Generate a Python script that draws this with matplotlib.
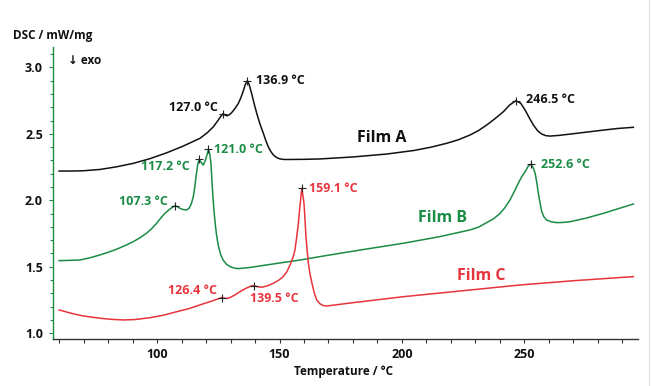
import numpy as np
import matplotlib
matplotlib.use("Agg")
import matplotlib.pyplot as plt
from matplotlib.lines import Line2D

# ---------------- data ----------------
film_a_T = [60, 65, 69.8, 76.7, 83.5, 90.3, 97.1, 103.9, 110.7, 117.5, 120.5, 123.0,
            125.0, 126.2, 127.0, 127.8, 128.6, 129.6, 130.5, 131.8, 133.2, 134.3, 135.2,
            136.0, 136.9, 137.6, 138.6, 139.6, 140.7, 142.0, 143.4, 144.4, 145.4, 146.4,
            147.5, 148.8, 150.2, 152.0, 153.6, 160, 166.5, 180, 193.8, 205, 212, 218.3,
            223.0, 227.8, 231.3, 234.6, 238.0, 241.4, 244.0, 246.5, 248.5, 250.3, 252.0,
            253.7, 255.4, 257.1, 258.8, 260.5, 264, 268.7, 275, 282.3, 288, 294.5]
film_a_Y = [2.220, 2.220, 2.222, 2.232, 2.252, 2.278, 2.313, 2.357, 2.408, 2.466, 2.508, 2.553,
            2.604, 2.635, 2.652, 2.640, 2.636, 2.645, 2.660, 2.690, 2.729, 2.775, 2.822,
            2.870, 2.900, 2.870, 2.805, 2.730, 2.654, 2.575, 2.504, 2.450, 2.403, 2.368,
            2.341, 2.322, 2.311, 2.307, 2.307, 2.308, 2.311, 2.326, 2.348, 2.375, 2.400, 2.429,
            2.455, 2.491, 2.525, 2.566, 2.614, 2.666, 2.717, 2.749, 2.730, 2.679, 2.620,
            2.566, 2.523, 2.498, 2.486, 2.483, 2.488, 2.498, 2.512, 2.528, 2.540, 2.549]

film_b_T = [60, 64, 68.5, 72.5, 76.7, 80, 83.5, 87, 90.3, 93, 95.7, 97.8, 99.8, 101.5,
            103.2, 105.3, 107.3, 108.3, 109.3, 110.7, 112.1, 113.1, 114.0, 114.8, 115.4,
            115.9, 116.6, 117.2, 118.0, 118.9, 119.9, 121.0, 121.5, 122.0, 122.4, 122.8,
            123.2, 123.6, 124.2, 125.0, 126.0, 127.0, 128.3, 129.8, 131.5, 133.2, 138,
            144.8, 150, 158.4, 170.6, 185, 200.6, 215, 227.8, 231.5, 234.6, 237.5, 240.1,
            242.2, 244.1, 246.0, 247.5, 249.0, 250.3, 251.5, 252.6, 253.5, 254.4, 255.1,
            255.7, 256.4, 257.1, 258.0, 259.1, 261, 263.2, 265.5, 268.7, 275, 282.3, 288,
            294.5]
film_b_Y = [1.546, 1.548, 1.551, 1.567, 1.589, 1.609, 1.632, 1.660, 1.689, 1.718, 1.752,
            1.787, 1.827, 1.866, 1.902, 1.935, 1.959, 1.952, 1.940, 1.930, 1.927, 1.940,
            1.975, 2.027, 2.100, 2.177, 2.270, 2.308, 2.285, 2.265, 2.310, 2.383, 2.350,
            2.280, 2.150, 2.030, 1.930, 1.850, 1.750, 1.660, 1.590, 1.550, 1.520, 1.501,
            1.490, 1.486, 1.495, 1.514, 1.528, 1.551, 1.589, 1.632, 1.677, 1.725, 1.777,
            1.800, 1.832, 1.862, 1.902, 1.948, 2.002, 2.070, 2.128, 2.180, 2.215, 2.255,
            2.271, 2.250, 2.203, 2.130, 2.053, 1.980, 1.914, 1.875, 1.852, 1.838, 1.832,
            1.833, 1.839, 1.865, 1.902, 1.935, 1.972]

film_c_T = [60, 65, 69.8, 76.7, 81, 86.2, 91, 97.1, 102.5, 108.0, 113, 117.5, 122, 124.5,
            126.4, 127.6, 129.1, 131.5, 133.9, 136.5, 138.3, 139.5, 141.0, 142.7, 145,
            147.5, 149.6, 151.5, 153.0, 154.3, 155.4, 156.3, 157.0, 157.7, 158.2, 158.6,
            159.1, 159.6, 160.0, 160.4, 160.8, 161.3, 161.8, 162.4, 163.1, 164.1, 165.2,
            166.5, 167.9, 169.3, 180, 200.6, 225, 248.2, 270, 294.5]
film_c_Y = [1.175, 1.150, 1.130, 1.113, 1.105, 1.100, 1.103, 1.117, 1.135, 1.162, 1.185,
            1.213, 1.240, 1.256, 1.268, 1.263, 1.263, 1.285, 1.313, 1.340, 1.354, 1.358,
            1.350, 1.346, 1.356, 1.376, 1.398, 1.426, 1.462, 1.514, 1.565, 1.626, 1.720,
            1.827, 1.930, 2.002, 2.090, 2.030, 1.977, 1.860, 1.726, 1.620, 1.526, 1.450,
            1.390, 1.310, 1.250, 1.222, 1.208, 1.205, 1.230, 1.275, 1.320, 1.363, 1.395,
            1.426]

peaks_a = [127.0, 136.9, 246.5]
peaks_b = [107.3, 117.2, 121.0, 252.6]
peaks_c = [126.4, 139.5, 159.1]

x_major = [100, 150, 200, 250]
y_major = [1.0, 1.5, 2.0, 2.5, 3.0]

# ---------------- style ----------------
BLACK = "#111111"
GREEN = "#1a8c46"
RED = "#e8343c"
FONT = ["Open Sans", "DejaVu Sans"]
plt.rcParams["font.family"] = FONT
WT = "bold"

W, H = 652, 386
fig = plt.figure(figsize=(W / 100, H / 100), dpi=100)
fig.patch.set_facecolor("white")
ax = fig.add_axes([53 / W, (H - 338.7) / H, (638 - 53) / W, (338.7 - 47) / H])

ax.set_xlim(57.5, 296.4)
ax.set_ylim(0.959, 3.153)

for T, Y, c in [(film_a_T, film_a_Y, BLACK), (film_b_T, film_b_Y, GREEN),
                (film_c_T, film_c_Y, RED)]:
    ax.plot(T, Y, color=c, lw=1.1, solid_joinstyle="round", antialiased=True)

for spine in ["top", "right"]:
    ax.spines[spine].set_visible(False)
ax.spines["left"].set_color(GREEN)
ax.spines["left"].set_linewidth(1.0)
ax.spines["bottom"].set_color("#333333")
ax.spines["bottom"].set_linewidth(1.0)

ax.set_xticks(x_major)
ax.set_xticks(np.arange(60, 291, 10), minor=True)
ax.set_yticks(y_major)
ax.set_yticks(np.arange(1.0, 3.11, 0.1), minor=True)
ax.set_xticklabels([str(v) for v in x_major])
ax.set_yticklabels([f"{v:.1f}" for v in y_major])
ax.tick_params(axis="x", which="both", length=3, width=0.8, color="#333333",
               direction="out", pad=3.5, labelsize=9)
ax.tick_params(axis="y", which="major", length=3.2, width=0.8, color=GREEN,
               direction="out", pad=4, labelsize=9)
ax.tick_params(axis="y", which="minor", length=2.2, width=0.8, color=GREEN,
               direction="out")
for lab in ax.get_xticklabels() + ax.get_yticklabels():
    lab.set_fontweight(WT)
    lab.set_color(BLACK)

# peak markers and labels
label_offsets = {
    127.0: (-5, 6, "right"), 136.9: (9, 0, "left"), 246.5: (10, 1.5, "left"),
    107.3: (-7, 4.5, "right"), 117.2: (-9, -7, "right"), 121.0: (6, -0.5, "left"),
    252.6: (10, 0, "left"),
    126.4: (-5, 7, "right"), 139.5: (-4, -13, "left"), 159.1: (7.5, 0, "left"),
}
for peaks, T, Y, c in [(peaks_a, film_a_T, film_a_Y, BLACK),
                       (peaks_b, film_b_T, film_b_Y, GREEN),
                       (peaks_c, film_c_T, film_c_Y, RED)]:
    for p in peaks:
        yv = float(np.interp(p, T, Y))
        ax.plot([p], [yv], marker="+", ms=6, mew=0.8, color="#222222", zorder=5)
        dx, dy, ha = label_offsets[p]
        ax.annotate(f"{p:.1f} °C", (p, yv), xytext=(dx, dy), textcoords="offset pixels",
                    ha=ha, va="center", color=c, fontsize=9, fontweight=WT)

ax.text(191.7, 2.468, "Film A", color=BLACK, fontsize=11.5, fontweight="bold",
        ha="center", va="center")
ax.text(216.4, 1.869, "Film B", color=GREEN, fontsize=11.5, fontweight="bold",
        ha="center", va="center")
ax.text(232.4, 1.431, "Film C", color=RED, fontsize=11.5, fontweight="bold",
        ha="center", va="center")

fig.text(13 / W, 1 - 35 / H, "DSC / mW/mg", fontsize=8.5, fontweight=WT,
         ha="left", va="center", color=BLACK)
fig.text(68 / W, 1 - 61 / H, "↓ exo", fontsize=8.5, fontweight=WT,
         ha="left", va="center", color=BLACK)
fig.text(343 / W, 1 - 371.7 / H, "Temperature / °C", fontsize=8.5, fontweight=WT,
         ha="center", va="center", color=BLACK)

fig.add_artist(Line2D([648.5 / W, 648.5 / W], [0, 1], color="#e2e2e2", lw=0.8))

fig.savefig("out.png", dpi=100, facecolor="white")
